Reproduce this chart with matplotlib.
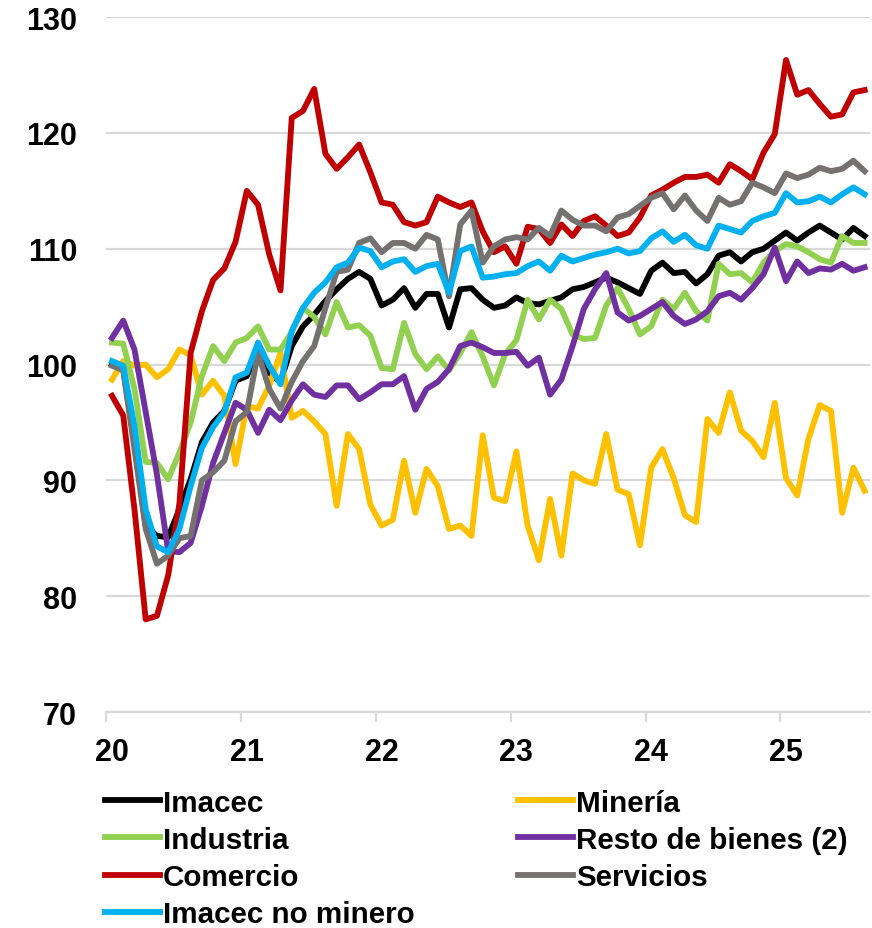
import matplotlib
matplotlib.use("Agg")
import matplotlib.pyplot as plt
import numpy as np

plt.rcParams['font.family'] = ['Liberation Sans', 'DejaVu Sans']
plt.rcParams['font.weight'] = 'bold'

# monthly index, Jan 2020 .. Aug 2025
year_labels = ['20', '21', '22', '23', '24', '25']

imacec = [100.0, 99.6, 93.3, 86.1, 85.2, 85.1, 87.5, 90.1, 93.3, 95.0, 96.0, 98.6,
          99.0, 101.3, 99.3, 98.5, 101.6, 103.3, 104.3, 105.5, 106.5, 107.4, 108.0, 107.4,
          105.1, 105.6, 106.6, 104.9, 106.1, 106.1, 103.2, 106.5, 106.6, 105.6, 104.9, 105.1,
          105.8, 105.3, 105.2, 105.5, 105.8, 106.5, 106.7, 107.1, 107.5, 107.1, 106.6, 106.1,
          108.1, 108.8, 107.9, 108.0, 107.0, 107.8, 109.4, 109.7, 108.9, 109.7, 110.0, 110.7,
          111.4, 110.7, 111.4, 112.0, 111.4, 110.8, 111.8, 111.1]
mineria = [98.7, 100.3, 99.9, 100.0, 98.9, 99.6, 101.3, 100.8, 97.4, 98.6, 97.3, 91.4,
           96.4, 96.2, 98.2, 101.0, 95.4, 96.0, 95.1, 94.0, 87.8, 94.0, 92.7, 87.9,
           86.1, 86.6, 91.7, 87.2, 91.0, 89.5, 85.8, 86.1, 85.2, 93.9, 88.5, 88.2,
           92.5, 86.1, 83.1, 88.4, 83.5, 90.6, 90.0, 89.7, 94.0, 89.2, 88.8, 84.4,
           91.1, 92.7, 90.2, 87.0, 86.4, 95.3, 94.1, 97.6, 94.3, 93.4, 92.0, 96.7,
           90.2, 88.7, 93.6, 96.5, 96.0, 87.2, 91.1, 89.1]
industria = [101.9, 101.8, 97.9, 91.6, 91.5, 90.1, 92.4, 95.0, 99.0, 101.6, 100.3, 101.9,
             102.3, 103.3, 101.3, 101.3, 102.8, 104.9, 104.1, 102.6, 105.4, 103.2, 103.4, 102.5,
             99.7, 99.6, 103.6, 100.9, 99.6, 100.7, 99.5, 101.0, 102.8, 100.7, 98.2, 100.9,
             102.1, 105.6, 103.9, 105.6, 104.8, 102.6, 102.2, 102.3, 105.1, 106.6, 104.8, 102.6,
             103.3, 105.6, 104.8, 106.2, 104.6, 103.8, 108.7, 107.8, 107.9, 107.1, 108.8, 109.8,
             110.4, 110.2, 109.7, 109.1, 108.8, 111.1, 110.5, 110.5]
resto = [102.3, 103.8, 101.3, 95.9, 90.5, 83.9, 83.8, 84.6, 87.8, 91.5, 94.1, 96.7,
         96.1, 94.1, 96.1, 95.2, 96.9, 98.3, 97.4, 97.2, 98.2, 98.2, 97.0, 97.6,
         98.3, 98.3, 99.0, 96.1, 97.9, 98.5, 99.6, 101.6, 101.9, 101.5, 101.0, 101.0,
         101.1, 99.9, 100.6, 97.4, 98.7, 101.6, 104.8, 106.5, 107.9, 104.5, 103.8, 104.2,
         104.8, 105.4, 104.2, 103.5, 103.9, 104.6, 105.9, 106.2, 105.6, 106.6, 107.8, 110.1,
         107.2, 108.9, 107.9, 108.3, 108.2, 108.7, 108.1, 108.4]
comercio = [97.3, 95.6, 87.5, 78.0, 78.3, 81.8, 88.0, 101.0, 104.6, 107.3, 108.3, 110.6,
            115.0, 113.8, 109.5, 106.4, 121.3, 121.9, 123.8, 118.2, 116.9, 117.9, 119.0, 116.6,
            114.0, 113.8, 112.3, 112.0, 112.3, 114.5, 114.0, 113.6, 114.0, 111.5, 109.7, 110.2,
            108.7, 111.9, 111.7, 110.5, 112.1, 111.1, 112.4, 112.8, 112.0, 111.1, 111.4, 112.7,
            114.6, 115.1, 115.7, 116.2, 116.2, 116.4, 115.7, 117.3, 116.7, 116.0, 118.3, 119.9,
            126.3, 123.3, 123.7, 122.5, 121.4, 121.6, 123.5, 123.7]
servicios = [99.9, 99.5, 92.7, 85.8, 82.8, 83.5, 85.0, 85.2, 90.0, 90.7, 91.7, 95.1,
             95.9, 101.0, 97.9, 96.2, 98.5, 100.3, 101.6, 104.9, 108.0, 108.2, 110.5, 110.9,
             109.7, 110.5, 110.5, 110.0, 111.2, 110.8, 105.9, 112.1, 113.3, 108.8, 110.2, 110.8,
             111.0, 110.8, 111.8, 111.1, 113.3, 112.5, 112.0, 112.0, 111.5, 112.7, 113.0, 113.7,
             114.4, 114.8, 113.4, 114.6, 113.3, 112.4, 114.4, 113.8, 114.1, 115.7, 115.3, 114.8,
             116.5, 116.1, 116.4, 117.0, 116.7, 116.9, 117.6, 116.7]
no_minero = [100.3, 99.9, 94.7, 87.5, 84.3, 83.8, 85.8, 89.5, 92.8, 94.6, 95.9, 98.9,
             99.3, 101.9, 99.9, 98.3, 102.9, 104.9, 106.2, 107.1, 108.4, 108.8, 110.1, 109.8,
             108.4, 108.9, 109.1, 108.0, 108.5, 108.7, 106.2, 109.8, 110.2, 107.5, 107.6, 107.8,
             107.9, 108.5, 108.9, 108.1, 109.4, 108.9, 109.2, 109.5, 109.7, 110.0, 109.6, 109.8,
             110.9, 111.5, 110.6, 111.2, 110.3, 110.0, 112.0, 111.7, 111.4, 112.4, 112.8, 113.1,
             114.8, 114.0, 114.1, 114.5, 114.0, 114.7, 115.3, 114.7]

series = [
    ('Imacec', imacec, 'black'),
    ('Minería', mineria, '#FFC000'),
    ('Industria', industria, '#92D050'),
    ('Resto de bienes (2)', resto, '#7030A0'),
    ('Comercio', comercio, '#C00000'),
    ('Servicios', servicios, '#767171'),
    ('Imacec no minero', no_minero, '#00B0F0'),
]

fig = plt.figure(figsize=(8.72, 9.29), dpi=100)
ax = fig.add_axes([0.122, 0.2325, 0.876, 0.748])

lines = {}
for name, vals, col in series:
    x = np.arange(len(vals))
    l, = ax.plot(x, vals, color=col, lw=4.2, label=name)
    lines[name] = l

n = len(imacec)
ax.set_xlim(-0.5, n - 0.5)
ax.set_ylim(70, 130)
ax.set_yticks(range(70, 131, 10))
ax.grid(axis='y', color='#D9D9D9', lw=1.6)
ax.set_axisbelow(True)
for s in ['top', 'right', 'left']:
    ax.spines[s].set_visible(False)
ax.spines['bottom'].set_color('#D9D9D9')
ax.spines['bottom'].set_linewidth(1.6)

# tick marks at year boundaries, labels at January
ax.set_xticks(np.arange(-0.5, n, 12))
ax.set_xticklabels([])
ax.tick_params(axis='x', which='major', length=7, width=1.6, color='#D9D9D9')
ax.set_xticks(np.arange(0, n, 12), minor=True)
ax.set_xticklabels(year_labels, minor=True)
ax.tick_params(axis='x', which='minor', length=0, pad=18, labelsize=22)
ax.tick_params(axis='y', length=0, pad=21, labelsize=22)

order = ['Imacec', 'Industria', 'Comercio', 'Imacec no minero',
         'Minería', 'Resto de bienes (2)', 'Servicios']
leg = fig.legend([lines[k] for k in order], order, ncol=2, frameon=False,
                 loc='upper left', bbox_to_anchor=(0.1204, 0.150),
                 fontsize=21.3, handlelength=1.86, handletextpad=0.1,
                 labelspacing=0.31, columnspacing=3.5, borderpad=0, borderaxespad=0)

plt.savefig('out.png', dpi=100)
